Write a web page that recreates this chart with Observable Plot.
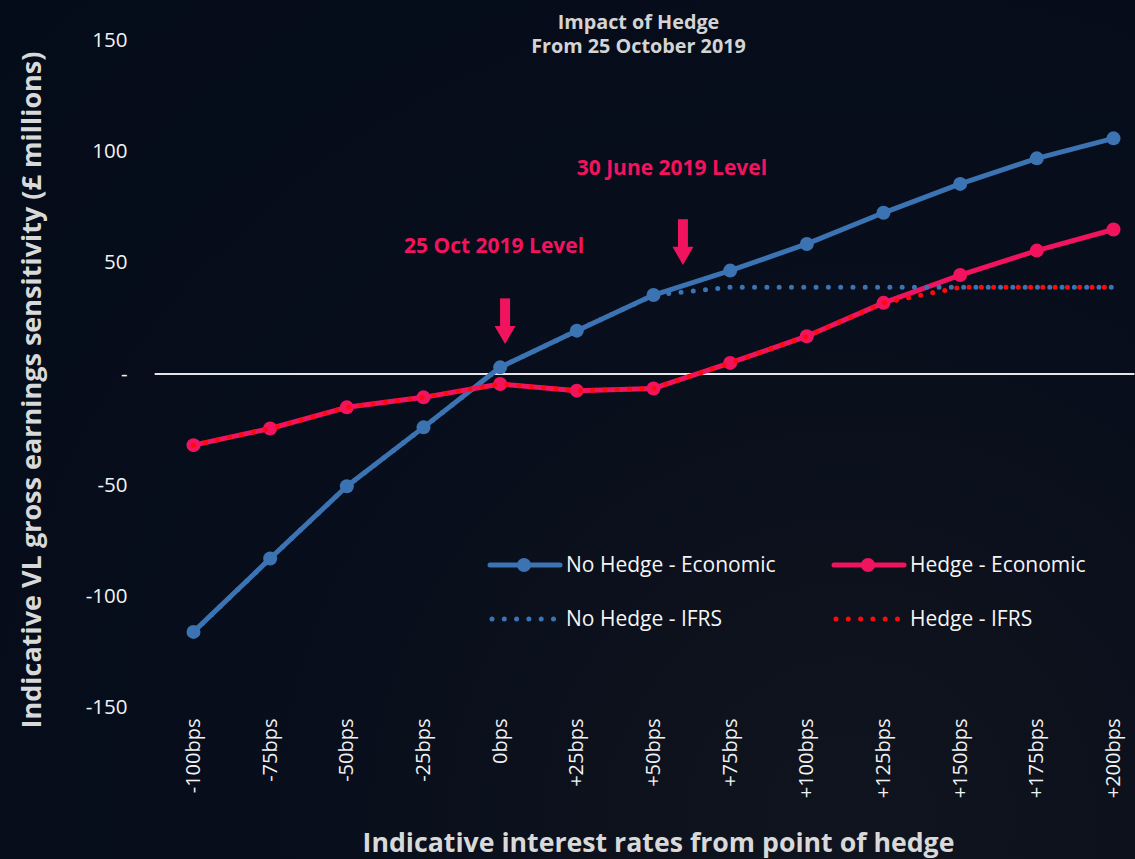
<!DOCTYPE html>
<html><head><meta charset="utf-8">
<script src="https://cdn.jsdelivr.net/npm/d3@7"></script>
<script src="https://cdn.jsdelivr.net/npm/@observablehq/plot@0.6"></script>
<style>
html,body{margin:0;padding:0;}
body{width:1135px;height:859px;overflow:hidden;background:radial-gradient(ellipse at 75% 95%, #10141e 0%, #080e1b 45%, #040b19 100%);font-family:"Open Sans",sans-serif;}
#wrap{position:relative;width:1135px;height:859px;}
#legend{position:absolute;left:0;top:0;pointer-events:none;}
</style>
</head><body>
<div id="wrap"></div>
<script>
// ---- data ----
const rates = [-100,-75,-50,-25,0,25,50,75,100,125,150,175,200];
const noHedgeEconomic = [-116,-83,-50.5,-24,3,19.5,35.5,46.5,58.5,72.5,85.5,97,106];
const hedgeEconomic   = [-32,-24.5,-15,-10.5,-4.5,-7.5,-6.5,5,17,32,44.5,55.5,65];
const noHedgeIFRS     = [-116,-83,-50.5,-24,3,19.5,35.5,39,39,39,39,39,39];
const hedgeIFRS       = [-32,-24.5,-15,-10.5,-4.5,-7.5,-6.5,5,17,32,39,39,39];
const yTicks = [-150,-100,-50,0,50,100,150];
const seriesNames = ["No Hedge - Economic","Hedge - Economic","No Hedge - IFRS","Hedge - IFRS"];
const annotationTexts = ["25 Oct 2019 Level","30 June 2019 Level"];
const annotationX = [-2, 56];
const annotationY = [57.5, 92.5];
const arrowX = [1.6, 59.6];
const arrowTop = [33.8, 69.4];
const arrowShaftEnd = [18, 53.6];
const arrowHead = [18.9, 54.5];

const BLUE = "#3b73b3", PINK = "#f2135f", RED = "#ff0a0a", TXT = "#f2f2f2", LBL = "#d9d9d9";

const rows = vals => rates.map((r,i)=>({rate:r, value:vals[i]}));
const nhE = rows(noHedgeEconomic), hE = rows(hedgeEconomic), nhI = rows(noHedgeIFRS), hI = rows(hedgeIFRS);
const annotations = annotationTexts.map((t,i)=>({text:t, x:annotationX[i], y:annotationY[i]}));
const arrows = arrowX.map((x,i)=>({x, top:arrowTop[i], end:arrowShaftEnd[i], head:arrowHead[i]}));
const fmtRate = d => d > 0 ? `+${d}bps` : `${d}bps`;

const chart = Plot.plot({
  width: 1135, height: 859,
  marginLeft: 193, marginRight: 22, marginTop: 40, marginBottom: 152,
  style: {background: "transparent", fontFamily: "'Open Sans', sans-serif", color: TXT, overflow: "visible"},
  x: {type: "linear", domain: [-100, 200]},
  y: {domain: [-150, 150]},
  marks: [
    Plot.axisY({ticks: yTicks, tickSize: 0, tickPadding: 66, tickFormat: d => d === 0 ? "-" : d, fontSize: 20.5, fill: TXT, label: null}),
    Plot.axisX({ticks: rates, tickSize: 0, tickPadding: 11, tickRotate: -90, tickFormat: fmtRate, fontSize: 20, fill: TXT, label: null}),
    Plot.ruleY([0], {x1: -112.5, x2: 207, stroke: "#e6e6e6", strokeWidth: 2}),
    Plot.line(nhE, {x: "rate", y: "value", stroke: BLUE, strokeWidth: 5}),
    Plot.dot(nhE, {x: "rate", y: "value", r: 7, fill: BLUE}),
    Plot.line(hE, {x: "rate", y: "value", stroke: PINK, strokeWidth: 5}),
    Plot.dot(hE, {x: "rate", y: "value", r: 7, fill: PINK}),
    Plot.line(nhI, {x: "rate", y: "value", stroke: BLUE, strokeWidth: 5, strokeDasharray: "0 12.3", strokeLinecap: "round"}),
    Plot.line(hI, {x: "rate", y: "value", stroke: RED, strokeWidth: 5, strokeDasharray: "0 12.3", strokeLinecap: "round"}),
    Plot.ruleX(arrows, {x: "x", y1: "top", y2: "end", stroke: PINK, strokeWidth: 10}),
    Plot.dot(arrows, {x: "x", y: "head", symbol: "triangle", r: 7.8, fill: PINK, rotate: 180}),
    Plot.text(annotations, {x: "x", y: "y", text: "text", fill: PINK, fontSize: 21, fontWeight: 700}),
    Plot.text(["Impact of Hedge"], {frameAnchor: "top", textAnchor: "middle", lineAnchor: "middle", dx: -15, dy: -18, fontSize: 19.8, fontWeight: 700, fill: "#d4d4d4"}),
    Plot.text(["From 25 October 2019"], {frameAnchor: "top", textAnchor: "middle", lineAnchor: "middle", dx: -15, dy: 6.5, fontSize: 19.8, fontWeight: 700, fill: "#d4d4d4"}),
    Plot.text(["Indicative VL gross earnings sensitivity (£ millions)"], {frameAnchor: "left", textAnchor: "middle", lineAnchor: "middle", dx: -161, dy: 16, rotate: -90, fontSize: 27, fontWeight: 700, fill: LBL}),
    Plot.text(["Indicative interest rates from point of hedge"], {frameAnchor: "bottom", textAnchor: "middle", lineAnchor: "middle", dx: 5, dy: 136, fontSize: 26.7, fontWeight: 700, fill: LBL})
  ]
});
document.getElementById("wrap").appendChild(chart);

// ---- legend overlay ----
const legendStyles = [
  {color: BLUE, dotted: false}, {color: PINK, dotted: false},
  {color: BLUE, dotted: true}, {color: RED, dotted: true}
];
const svg = d3.select("#wrap").append("svg").attr("id","legend").attr("width",1135).attr("height",859);
seriesNames.forEach((name, i) => {
  const col = i % 2, row = Math.floor(i / 2);
  const x0 = 490 + col * 344, y0 = 565 + row * 54;
  const g = svg.append("g").attr("transform", `translate(${x0},${y0})`);
  const st = legendStyles[i];
  if (st.dotted) {
    g.append("line").attr("x1", 2).attr("x2", 66).attr("y1", 0).attr("y2", 0)
      .attr("stroke", st.color).attr("stroke-width", 5).attr("stroke-linecap", "round").attr("stroke-dasharray", "0 12.3");
  } else {
    g.append("line").attr("x1", 0).attr("x2", 70).attr("y1", 0).attr("y2", 0)
      .attr("stroke", st.color).attr("stroke-width", 5).attr("stroke-linecap", "round");
    g.append("circle").attr("cx", 34).attr("cy", 0).attr("r", 7).attr("fill", st.color);
  }
  g.append("text").attr("x", 76).attr("y", 0).attr("dy", "0.35em")
    .attr("fill", "#f5f5f5").attr("font-size", 21).attr("font-family", "'Open Sans', sans-serif")
    .text(name);
});
</script>
</body></html>
